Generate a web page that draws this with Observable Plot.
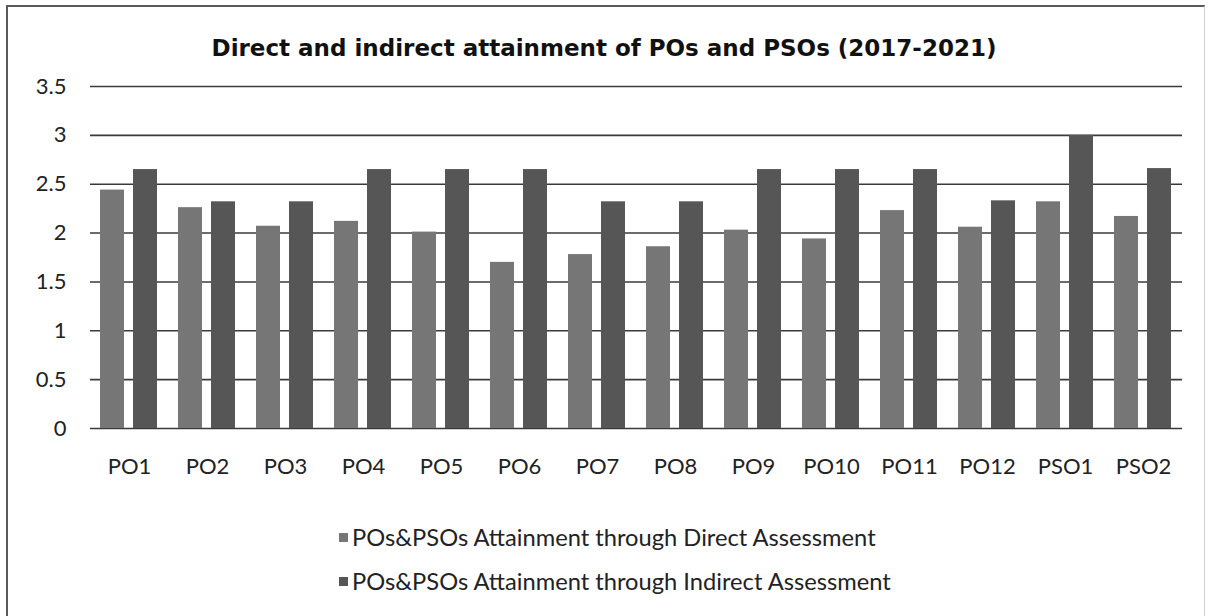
<!DOCTYPE html>
<html><head><meta charset="utf-8">
<script src="https://cdn.jsdelivr.net/npm/d3@7"></script>
<script src="https://cdn.jsdelivr.net/npm/@observablehq/plot@0.6"></script>
<style>
body{margin:0;background:#fff;}
#wrap{position:relative;width:1208px;height:616px;overflow:hidden;background:#fff;}
#frame{position:absolute;left:6px;top:5px;width:1196px;height:640px;border-left:2px solid #5a5a5a;border-top:2px solid #5a5a5a;border-right:1px solid #d0d0d0;}
#title{position:absolute;left:0;width:1208px;top:35px;text-align:center;font:bold 23px "DejaVu Sans";color:#111;line-height:26px;}
#chart{position:absolute;left:0;top:70px;}
#legend{position:absolute;left:339px;top:515px;font:23.7px Lato;color:#222;}
.row{height:44px;display:flex;align-items:center;}
.sw{width:9px;height:9px;margin-right:4px;}
</style></head>
<body>
<div id="wrap">
<div id="frame"></div>
<div id="title">Direct and indirect attainment of POs and PSOs (2017-2021)</div>
<div id="chart"></div>
<div id="legend"></div>
</div>
<script>
const categories = ["PO1","PO2","PO3","PO4","PO5","PO6","PO7","PO8","PO9","PO10","PO11","PO12","PSO1","PSO2"];
const direct = [2.44,2.26,2.07,2.12,2.01,1.70,1.78,1.86,2.03,1.94,2.23,2.06,2.32,2.17];
const indirect = [2.65,2.32,2.32,2.65,2.65,2.65,2.32,2.32,2.65,2.65,2.65,2.33,3.0,2.66];
const series = ["POs&PSOs Attainment through Direct Assessment","POs&PSOs Attainment through Indirect Assessment"];
const colors = ["#767676","#565656"];
const yTicks = [0,0.5,1,1.5,2,2.5,3,3.5];

const table = [];
categories.forEach((c,i)=>{
  table.push({cat:c, series:series[0], value:direct[i]});
  table.push({cat:c, series:series[1], value:indirect[i]});
});

const chart = Plot.plot({
  width:1208, height:420,
  marginLeft:87, marginRight:23, marginTop:16, marginBottom:62,
  style:{fontFamily:"Lato", fontSize:"22px", color:"#222", background:"transparent"},
  fx:{domain:categories, padding:0, label:null, axis:"bottom", tickSize:0, tickPadding:30},
  x:{domain:series, paddingInner:0.258, paddingOuter:0.28, axis:null},
  y:{domain:[0,3.5], ticks:yTicks, tickSize:0, tickPadding:24, label:null, tickFormat:d=>String(d)},
  color:{domain:series, range:colors},
  marks:[
    Plot.ruleY(yTicks, {stroke:"#3a3a3a", strokeWidth:1.6}),
    Plot.barY(table, {fx:"cat", x:"series", y:"value", fill:"series"})
  ]
});
document.getElementById("chart").appendChild(chart);

const leg = document.getElementById("legend");
series.forEach((s,i)=>{
  const r = document.createElement("div"); r.className="row";
  const sw = document.createElement("div"); sw.className="sw"; sw.style.background=colors[i];
  const t = document.createElement("span"); t.textContent=s;
  r.appendChild(sw); r.appendChild(t); leg.appendChild(r);
});
</script>
</body></html>
